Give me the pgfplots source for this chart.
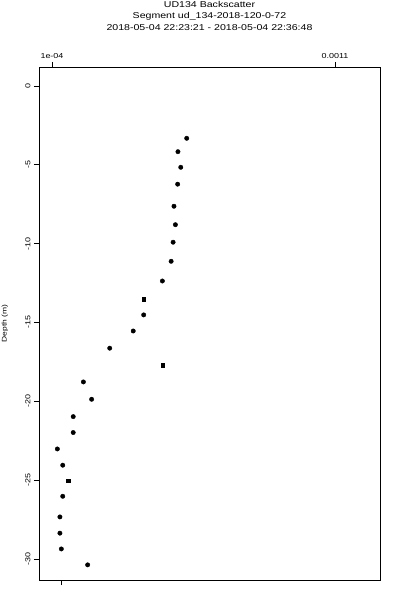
\documentclass[border=0pt]{standalone}
\usepackage{fontspec}
\setmainfont{Liberation Sans}[FakeStretch=1.25]
\usepackage{pgfplots}
\pgfplotsset{compat=1.18}
\begin{document}
\begin{tikzpicture}
\useasboundingbox (-39bp,-20bp) rectangle (361bp,580bp);
\begin{axis}[
  at={(0,0)}, anchor=south west,
  scale only axis, width=341bp, height=513bp,
  xmin=0.541e-4, xmax=12.59e-4, ymin=-31.33, ymax=1.2,
  axis line style={line width=0.7bp},
  every tick/.style={line width=0.7bp, black},
  tick align=outside, major tick length=5bp,
  xtick pos=right, xticklabel pos=right,
  xtick={1e-4,11e-4}, xticklabels={1e-04,0.0011},
  scaled x ticks=false,
  ytick pos=left,
  ytick={-30,-25,-20,-15,-10,-5,0},
  yticklabels={-30,-25,-20,-15,-10,-5,0},
  xticklabel style={font=\fontsize{7.2}{8}\selectfont},
  yticklabel style={rotate=90, anchor=south, font=\fontsize{7.2}{8}\selectfont},
  ylabel={Depth (m)},
  every axis y label/.style={at={(axis description cs:-0.1,0.5)}, rotate=90, anchor=center, font=\fontsize{6.8}{7}\selectfont},
  clip=false,
]
\addplot[only marks, mark=*, mark size=2.2bp, black] coordinates {
  (5.76e-4,-3.32) (5.45e-4,-4.17) (5.55e-4,-5.16) (5.44e-4,-6.23)
  (5.31e-4,-7.63) (5.36e-4,-8.80) (5.28e-4,-9.91) (5.21e-4,-11.12)
  (4.90e-4,-12.37) (4.24e-4,-14.52) (3.87e-4,-15.54) (3.04e-4,-16.63)
  (2.11e-4,-18.77) (2.40e-4,-19.87) (1.75e-4,-20.97) (1.75e-4,-21.98)
  (1.19e-4,-23.02) (1.38e-4,-24.05) (1.38e-4,-26.02) (1.28e-4,-27.33)
  (1.28e-4,-28.36) (1.33e-4,-29.36) (2.26e-4,-30.37)
};
\addplot[only marks, mark=square*, mark size=1.9bp, black] coordinates {
  (4.24e-4,-13.51) (4.91e-4,-17.69) (1.56e-4,-25.03)
};
\node[anchor=base, font=\fontsize{8.5}{9}\selectfont] at (axis description cs:0.5,1.115) {UD134 Backscatter};
\node[anchor=base, font=\fontsize{8.5}{9}\selectfont] at (axis description cs:0.5,1.0945) {Segment ud\_134-2018-120-0-72};
\node[anchor=base, font=\fontsize{8.5}{9}\selectfont] at (axis description cs:0.5,1.0721) {2018-05-04 22:23:21 - 2018-05-04 22:36:48};
\end{axis}
\begin{axis}[
  at={(0,0)}, anchor=south west,
  scale only axis, width=341bp, height=513bp,
  xmin=0.541e-4, xmax=12.59e-4, ymin=-31.33, ymax=1.2,
  hide y axis, axis x line*=bottom,
  axis line style={line width=0.7bp},
  every tick/.style={line width=0.7bp, black},
  tick align=outside, major tick length=5bp,
  scaled x ticks=false,
  xtick={1.318e-4}, xticklabels={},
]
\end{axis}
\end{tikzpicture}
\end{document}
